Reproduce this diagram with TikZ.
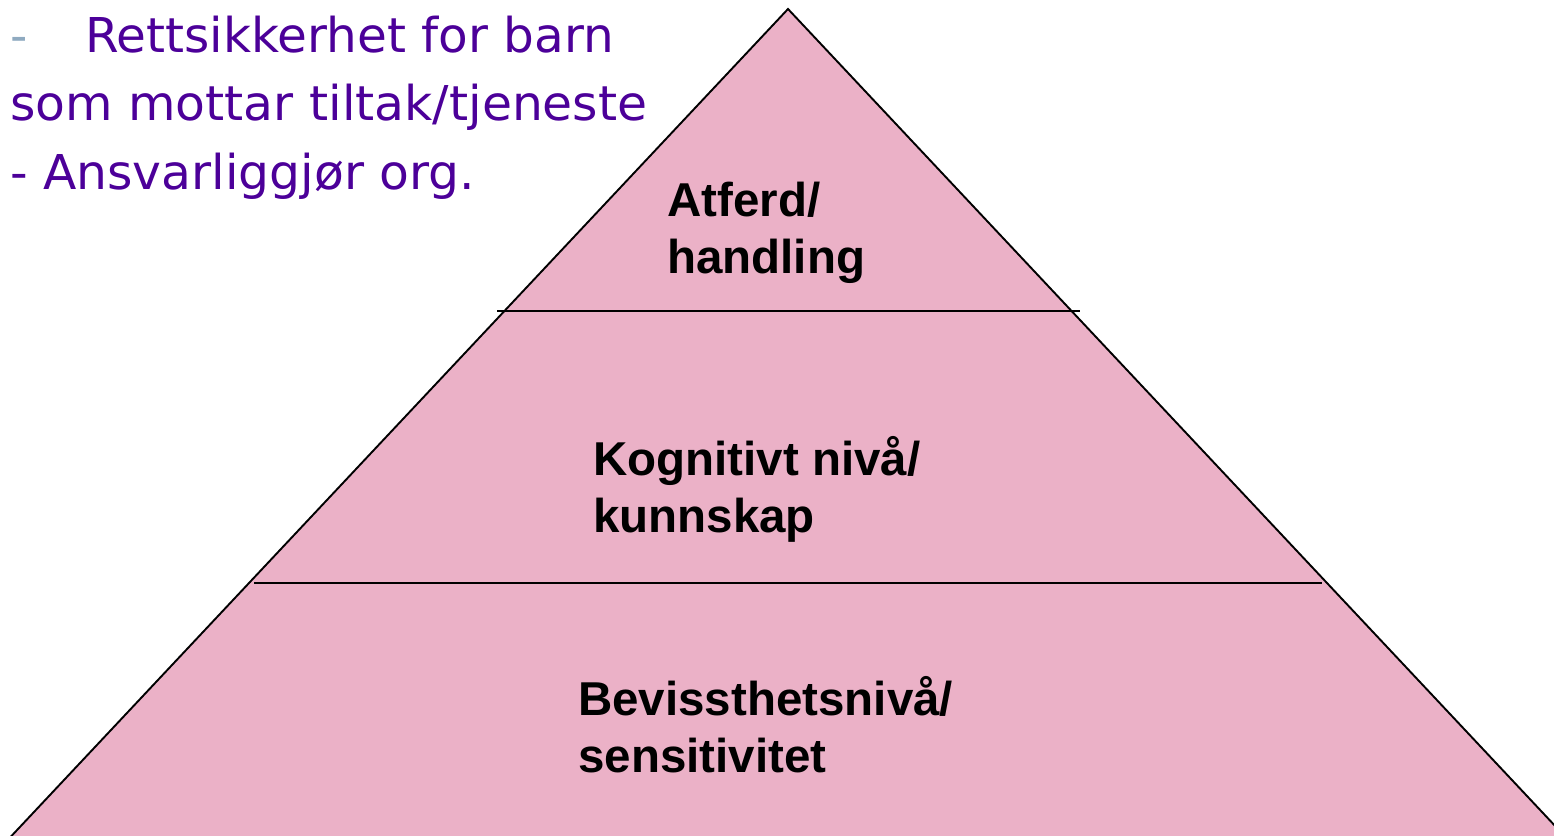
\documentclass[tikz,border=0pt]{standalone}
\usepackage{fontspec}
\setmainfont{Liberation Sans}
\newfontfamily\leftfont{DejaVu Sans}
\definecolor{pyrfill}{RGB}{235,177,199}
\definecolor{purp}{RGB}{76,0,153}
\definecolor{dashc}{RGB}{143,170,192}
\begin{document}
\begin{tikzpicture}[x=1pt,y=-1pt,
  edge/.style={draw=black,line width=1.9pt},
  lvl/.style={anchor=base west,inner sep=0pt,font=\fontsize{47.5}{57}\selectfont\bfseries,text=black},
  note/.style={anchor=base west,inner sep=0pt,font=\leftfont\fontsize{48}{70}\selectfont,text=purp}]
\useasboundingbox (0,0) rectangle (1554,835);
\begin{scope}
\clip (0,0) rectangle (1554,835);
\coordinate (apex) at (788,9);
\coordinate (bl) at (3,845);
\coordinate (br) at (1573,845);
\fill[pyrfill] (apex) -- (bl) -- (br) -- cycle;
\draw[edge] (bl) -- (apex) -- (br);
\end{scope}
\coordinate (l1a) at (497,311);
\coordinate (l1b) at (1080,311);
\coordinate (l2a) at (254,583);
\coordinate (l2b) at (1322,583);
\draw[edge] (l1a) -- (l1b);
\draw[edge] (l2a) -- (l2b);
\node[lvl] (a1) at (667,216) {Atferd/};
\node[lvl] (a2) at (667,273) {handling};
\node[lvl] (k1) at (593,475) {Kognitivt nivå/};
\node[lvl] (k2) at (593,532) {kunnskap};
\node[lvl] (b1) at (578,715) {Bevissthetsnivå/};
\node[lvl] (b2) at (578,772) {sensitivitet};
\node[note] (n1) at (10,52) {\makebox[75pt][l]{\color{dashc}-}\scalebox{1.01}[1]{Rettsikkerhet for barn}};
\node[note] (n2) at (10,120) {\scalebox{1.016}[1]{som mottar tiltak/tjeneste}};
\node[note] (n3) at (10,189) {\scalebox{1.016}[1]{- Ansvarliggjør org.}};
\end{tikzpicture}
\end{document}
